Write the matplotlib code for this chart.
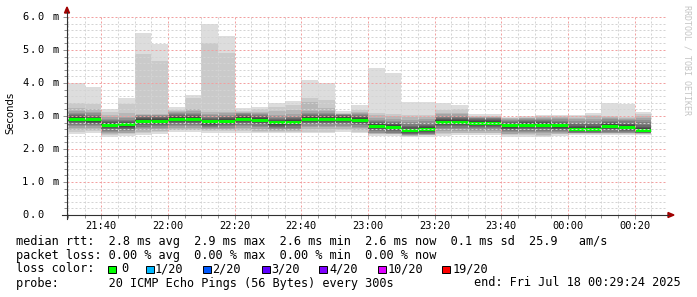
import numpy as np
import matplotlib
matplotlib.use('Agg')
import matplotlib.pyplot as plt
import matplotlib.transforms as mtransforms
from matplotlib.lines import Line2D
from matplotlib.patches import Polygon, Rectangle

# 5 minute steps, minutes after 21:30
step_start = np.arange(35) * 5

# median rtt per step (ms)
median_ms = [2.91, 2.90, 2.73, 2.75, 2.85, 2.86, 2.91, 2.91, 2.84, 2.86,
             2.91, 2.88, 2.81, 2.82, 2.92, 2.92, 2.92, 2.89, 2.71, 2.67,
             2.57, 2.61, 2.82, 2.82, 2.80, 2.80, 2.72, 2.73, 2.73, 2.72,
             2.62, 2.62, 2.70, 2.68, 2.57]

# the 20 sorted pings of each step (ms)
pings_ms = [
    [2.45, 2.51, 2.59, 2.65, 2.70, 2.74, 2.78, 2.81, 2.84, 2.88, 2.93, 2.96, 2.99, 3.02, 3.05, 3.09, 3.14, 3.24, 3.38, 3.99],
    [2.48, 2.54, 2.58, 2.64, 2.69, 2.73, 2.77, 2.80, 2.83, 2.87, 2.92, 2.95, 2.98, 3.01, 3.04, 3.08, 3.13, 3.20, 3.35, 3.89],
    [2.37, 2.43, 2.45, 2.47, 2.52, 2.56, 2.60, 2.63, 2.66, 2.70, 2.75, 2.78, 2.81, 2.84, 2.87, 2.91, 2.96, 3.02, 3.13, 3.21],
    [2.39, 2.45, 2.47, 2.49, 2.54, 2.58, 2.62, 2.65, 2.68, 2.72, 2.77, 2.80, 2.83, 2.86, 2.89, 2.93, 2.98, 3.10, 3.35, 3.55],
    [2.42, 2.48, 2.53, 2.59, 2.64, 2.68, 2.72, 2.75, 2.78, 2.82, 2.87, 2.90, 2.93, 2.96, 2.99, 3.02, 3.04, 3.05, 4.87, 5.52],
    [2.45, 2.51, 2.54, 2.60, 2.65, 2.69, 2.73, 2.76, 2.79, 2.83, 2.88, 2.91, 2.94, 2.97, 3.00, 3.02, 3.04, 3.06, 4.68, 5.18],
    [2.52, 2.57, 2.59, 2.65, 2.70, 2.74, 2.78, 2.81, 2.84, 2.88, 2.93, 2.96, 2.99, 3.02, 3.05, 3.08, 3.11, 3.14, 3.18, 3.28],
    [2.52, 2.57, 2.59, 2.65, 2.70, 2.74, 2.78, 2.81, 2.84, 2.88, 2.93, 2.96, 2.99, 3.02, 3.05, 3.09, 3.14, 3.20, 3.55, 3.64],
    [2.50, 2.56, 2.58, 2.60, 2.63, 2.67, 2.71, 2.74, 2.77, 2.81, 2.86, 2.89, 2.92, 2.95, 2.98, 3.02, 3.07, 3.12, 5.22, 5.79],
    [2.50, 2.56, 2.58, 2.60, 2.65, 2.69, 2.73, 2.76, 2.79, 2.83, 2.88, 2.91, 2.94, 2.97, 3.00, 3.04, 3.09, 3.13, 4.92, 5.42],
    [2.48, 2.54, 2.59, 2.65, 2.70, 2.74, 2.78, 2.81, 2.84, 2.88, 2.93, 2.96, 2.99, 3.02, 3.05, 3.08, 3.10, 3.12, 3.15, 3.23],
    [2.47, 2.53, 2.56, 2.62, 2.67, 2.71, 2.75, 2.78, 2.81, 2.85, 2.90, 2.93, 2.96, 2.99, 3.02, 3.06, 3.10, 3.13, 3.20, 3.28],
    [2.47, 2.53, 2.55, 2.57, 2.60, 2.64, 2.68, 2.71, 2.74, 2.78, 2.83, 2.86, 2.89, 2.92, 2.95, 2.99, 3.04, 3.15, 3.28, 3.38],
    [2.47, 2.53, 2.55, 2.57, 2.61, 2.65, 2.69, 2.72, 2.75, 2.79, 2.84, 2.87, 2.90, 2.93, 2.96, 3.00, 3.05, 3.18, 3.33, 3.45],
    [2.47, 2.53, 2.60, 2.66, 2.71, 2.75, 2.79, 2.82, 2.85, 2.89, 2.94, 2.97, 3.00, 3.03, 3.06, 3.10, 3.15, 3.42, 3.55, 4.09],
    [2.47, 2.53, 2.60, 2.66, 2.71, 2.75, 2.79, 2.82, 2.85, 2.89, 2.94, 2.97, 3.00, 3.03, 3.06, 3.10, 3.15, 3.25, 3.48, 3.99],
    [2.52, 2.57, 2.60, 2.66, 2.71, 2.75, 2.79, 2.82, 2.85, 2.89, 2.94, 2.97, 3.00, 3.02, 3.04, 3.05, 3.06, 3.07, 3.09, 3.15],
    [2.47, 2.53, 2.57, 2.63, 2.68, 2.72, 2.76, 2.79, 2.82, 2.86, 2.91, 2.94, 2.97, 3.00, 3.03, 3.07, 3.10, 3.13, 3.18, 3.33],
    [2.39, 2.44, 2.46, 2.48, 2.50, 2.54, 2.58, 2.61, 2.64, 2.68, 2.73, 2.76, 2.79, 2.82, 2.85, 2.89, 2.94, 3.02, 3.08, 4.46],
    [2.39, 2.44, 2.45, 2.46, 2.48, 2.50, 2.54, 2.57, 2.60, 2.64, 2.69, 2.72, 2.75, 2.78, 2.81, 2.86, 2.92, 3.00, 3.05, 4.31],
    [2.35, 2.39, 2.40, 2.41, 2.42, 2.44, 2.46, 2.48, 2.51, 2.54, 2.59, 2.62, 2.66, 2.71, 2.76, 2.82, 2.89, 2.96, 3.03, 3.43],
    [2.37, 2.41, 2.42, 2.43, 2.44, 2.46, 2.49, 2.52, 2.55, 2.58, 2.63, 2.66, 2.70, 2.74, 2.79, 2.85, 2.91, 2.98, 3.03, 3.43],
    [2.39, 2.45, 2.50, 2.56, 2.61, 2.65, 2.69, 2.72, 2.75, 2.79, 2.84, 2.87, 2.90, 2.93, 2.96, 3.00, 3.05, 3.10, 3.18, 3.38],
    [2.42, 2.47, 2.50, 2.56, 2.61, 2.65, 2.69, 2.72, 2.75, 2.79, 2.84, 2.87, 2.90, 2.93, 2.96, 3.00, 3.05, 3.10, 3.20, 3.33],
    [2.42, 2.47, 2.49, 2.54, 2.59, 2.63, 2.67, 2.70, 2.73, 2.77, 2.82, 2.85, 2.88, 2.91, 2.93, 2.95, 2.96, 2.97, 2.99, 3.05],
    [2.42, 2.47, 2.49, 2.54, 2.59, 2.63, 2.67, 2.70, 2.73, 2.77, 2.82, 2.85, 2.88, 2.91, 2.93, 2.95, 2.96, 2.98, 3.00, 3.05],
    [2.37, 2.42, 2.44, 2.46, 2.51, 2.55, 2.59, 2.62, 2.65, 2.69, 2.74, 2.77, 2.80, 2.83, 2.86, 2.89, 2.91, 2.93, 2.94, 2.96],
    [2.37, 2.42, 2.44, 2.47, 2.52, 2.56, 2.60, 2.63, 2.66, 2.70, 2.75, 2.78, 2.81, 2.84, 2.87, 2.90, 2.93, 2.95, 2.97, 3.00],
    [2.35, 2.40, 2.42, 2.47, 2.52, 2.56, 2.60, 2.63, 2.66, 2.70, 2.75, 2.78, 2.81, 2.84, 2.87, 2.91, 2.94, 2.96, 2.99, 3.03],
    [2.39, 2.44, 2.46, 2.48, 2.51, 2.55, 2.59, 2.62, 2.65, 2.69, 2.74, 2.77, 2.80, 2.83, 2.86, 2.90, 2.94, 2.96, 2.99, 3.03],
    [2.42, 2.46, 2.47, 2.48, 2.49, 2.50, 2.52, 2.54, 2.56, 2.59, 2.64, 2.67, 2.71, 2.75, 2.80, 2.85, 2.90, 2.95, 2.99, 3.03],
    [2.42, 2.46, 2.47, 2.48, 2.49, 2.50, 2.52, 2.54, 2.56, 2.59, 2.64, 2.67, 2.71, 2.75, 2.80, 2.86, 2.92, 2.99, 3.04, 3.10],
    [2.42, 2.46, 2.47, 2.48, 2.50, 2.53, 2.57, 2.60, 2.63, 2.67, 2.72, 2.75, 2.78, 2.82, 2.86, 2.90, 2.94, 2.97, 3.00, 3.38],
    [2.42, 2.46, 2.47, 2.48, 2.49, 2.51, 2.55, 2.58, 2.61, 2.65, 2.70, 2.73, 2.76, 2.80, 2.84, 2.88, 2.92, 2.95, 2.98, 3.36],
    [2.42, 2.45, 2.46, 2.47, 2.48, 2.49, 2.50, 2.51, 2.52, 2.54, 2.59, 2.63, 2.68, 2.74, 2.81, 2.88, 2.95, 3.00, 3.05, 3.11],
]

xtick_pos = [10, 30, 50, 70, 90, 110, 130, 150, 170]
xtick_labels = ['21:40', '22:00', '22:20', '22:40', '23:00', '23:20', '23:40', '00:00', '00:20']
ytick_vals = [0, 1, 2, 3, 4, 5, 6]
ytick_labels = ['0.0', '1.0 m', '2.0 m', '3.0 m', '4.0 m', '5.0 m', '6.0 m']

loss_labels = ['0', '1/20', '2/20', '3/20', '4/20', '10/20', '19/20']
loss_colors = ['#00ff00', '#00b8ff', '#0059ff', '#5e00ff', '#7e00ff', '#dd00ff', '#ff0000']

legend_rtt = 'median rtt:  2.8 ms avg  2.9 ms max  2.6 ms min  2.6 ms now  0.1 ms sd  25.9   am/s'
legend_loss = 'packet loss: 0.00 % avg  0.00 % max  0.00 % min  0.00 % now'
legend_probe = 'probe:       20 ICMP Echo Pings (56 Bytes) every 300s'
legend_end = 'end: Fri Jul 18 00:29:24 2025'

W, H = 697, 297
MONO = 'DejaVu Sans Mono'
LEG_SIZE = 8.6


def fx(x):
    return x / W


def fy(y):
    return 1 - y / H


pings = np.array(pings_ms)

fig = plt.figure(figsize=(W / 100, H / 100), dpi=100)
fig.patch.set_facecolor('white')
ax = fig.add_axes([fx(67), fy(215), 600 / W, 198 / H])
ax.set_xlim(-0.3, 179.7)
ax.set_ylim(0, 6)

# smoke: outer pairs light, inner pairs dark
shades = ['#dddddd', '#cacaca', '#b7b7b7', '#a4a4a4', '#919191',
          '#7e7e7e', '#6b6b6b', '#585858', '#454545', '#323232']
for k in range(10):
    lo = pings[:, k]
    hi = pings[:, 19 - k]
    ax.bar(step_start, hi - lo, bottom=lo, width=5, align='edge',
           color=shades[k], linewidth=0, zorder=1)

ax.hlines(median_ms, step_start, step_start + 5, colors='#00ff00',
          linewidth=2.2, zorder=2)

ax.set_xticks(xtick_pos)
ax.set_xticklabels(xtick_labels, family=MONO, fontsize=7.5)
ax.set_xticks(np.arange(0, 180, 5), minor=True)
ax.set_yticks(ytick_vals)
ax.set_yticks(np.arange(0, 6.01, 0.2), minor=True)
ax.tick_params(axis='y', labelleft=False)
ax.tick_params(which='both', direction='out', color='#909090', width=0.7)
ax.tick_params(which='major', length=3)
ax.tick_params(which='minor', length=2)
ax.tick_params(axis='x', pad=1.5)

ax.set_axisbelow(False)
ax.grid(which='minor', color='#d4d4d4', linestyle=(0, (2, 2)), linewidth=0.72)
ax.grid(which='major', color='#f2a0a0', linestyle=(0, (2, 2)), linewidth=0.72)
for s in ax.spines.values():
    s.set_visible(False)

# y labels are spaced wide, one character per cell
trans = mtransforms.blended_transform_factory(fig.transFigure, ax.transData)
for v, lab in zip(ytick_vals, ytick_labels):
    for j, ch in enumerate(lab):
        ax.text(fx(22 + 7.7 * j), v, ch, transform=trans, ha='left', va='center',
                family=MONO, fontsize=7.5, color='black')

# axis lines with arrows
fig.add_artist(Line2D([fx(62), fx(668)], [fy(215), fy(215)], color='#303030', lw=0.8))
fig.add_artist(Line2D([fx(67), fx(67)], [fy(219), fy(12)], color='#303030', lw=0.8))
fig.add_artist(Polygon([[fx(668), fy(212.5)], [fx(674), fy(215)], [fx(668), fy(217.5)]],
                       closed=True, color='#a00000', transform=fig.transFigure))
fig.add_artist(Polygon([[fx(64.5), fy(13)], [fx(67), fy(7)], [fx(69.5), fy(13)]],
                       closed=True, color='#a00000', transform=fig.transFigure))

fig.text(fx(10), fy(113), 'Seconds', rotation=90, ha='center', va='center',
         fontsize=7.3, family='DejaVu Sans')
fig.text(fx(687), fy(5), 'RRDTOOL / TOBI OETIKER', rotation=270, ha='center', va='top',
         fontsize=6, color='#c4c4c4', family=MONO)

# legend
fig.text(fx(16), fy(241), legend_rtt, ha='left', va='center', family=MONO, fontsize=LEG_SIZE)
fig.text(fx(16), fy(255), legend_loss, ha='left', va='center', family=MONO, fontsize=LEG_SIZE)
fig.text(fx(16), fy(269), 'loss color:', ha='left', va='center', family=MONO, fontsize=LEG_SIZE)
box_x = [108, 146, 203, 262, 319, 378, 442]
text_x = [121, 155, 212, 271, 329, 388, 453]
for bx, tx, lab, col in zip(box_x, text_x, loss_labels, loss_colors):
    fig.add_artist(Rectangle((fx(bx), fy(273)), 7.5 / W, 7.5 / H, facecolor=col,
                             edgecolor='black', linewidth=0.7, transform=fig.transFigure))
    fig.text(fx(tx), fy(269), lab, ha='left', va='center', family=MONO, fontsize=LEG_SIZE)
fig.text(fx(16), fy(283), legend_probe, ha='left', va='center', family=MONO, fontsize=LEG_SIZE)
fig.text(fx(681), fy(283), legend_end, ha='right', va='center', family=MONO, fontsize=LEG_SIZE)

fig.savefig('out.png', dpi=100)
